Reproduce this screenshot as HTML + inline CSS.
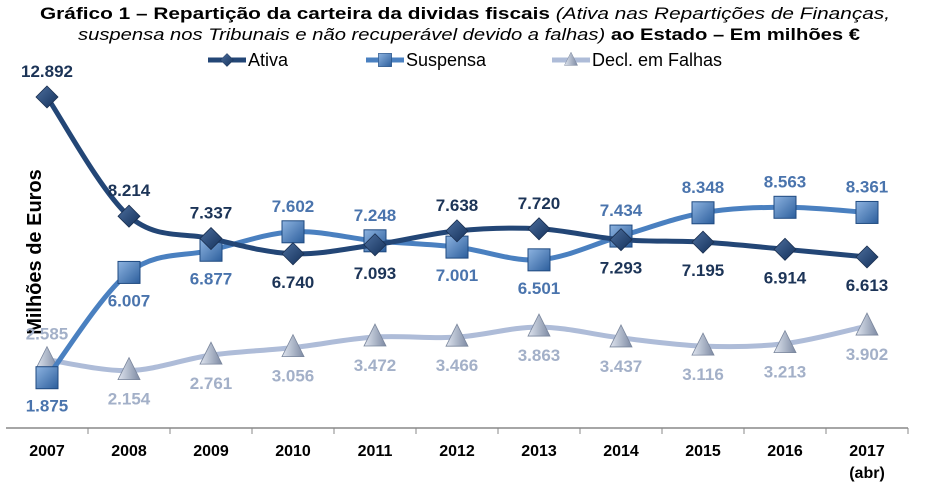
<!DOCTYPE html>
<html><head><meta charset="utf-8"><style>
body{margin:0;background:#fff;width:933px;height:489px;overflow:hidden}
svg{display:block}
</style></head><body>
<svg width="933" height="489" xmlns="http://www.w3.org/2000/svg">
<defs>
<linearGradient id="gA" x1="0" y1="0" x2="1" y2="1"><stop offset="0" stop-color="#4d6f9e"/><stop offset="1" stop-color="#13305a"/></linearGradient>
<linearGradient id="gS" x1="0" y1="0" x2="1" y2="1"><stop offset="0" stop-color="#8db3e0"/><stop offset="1" stop-color="#2c5e9c"/></linearGradient>
<linearGradient id="gD" x1="0" y1="0" x2="1" y2="0"><stop offset="0" stop-color="#dfe5ef"/><stop offset="1" stop-color="#7d8aa3"/></linearGradient>
</defs>
<text x="40" y="19" textLength="850" lengthAdjust="spacingAndGlyphs" font-family="Liberation Sans, sans-serif" font-size="17" font-weight="bold" fill="#000">Gráfico 1 – Repartição da carteira da dividas fiscais <tspan font-weight="normal" font-style="italic">(Ativa nas Repartições de Finanças,</tspan></text>
<text x="78" y="40" textLength="782" lengthAdjust="spacingAndGlyphs" font-family="Liberation Sans, sans-serif" font-size="17" font-weight="bold" fill="#000"><tspan font-weight="normal" font-style="italic">suspensa nos Tribunais e não recuperável devido a falhas)</tspan> ao Estado – Em milhões €</text>
<text transform="translate(41,252) rotate(-90)" text-anchor="middle" font-family="Liberation Sans, sans-serif" font-size="20" font-weight="bold" fill="#000">Milhões de Euros</text>
<g id="axis"></g>
<g id="legend"></g>
<g id="series"></g>
</svg>
<script>
const categories=["2007","2008","2009","2010","2011","2012","2013","2014","2015","2016","2017"];
const ativa=[12892,8214,7337,6740,7093,7638,7720,7293,7195,6914,6613];
const suspensa=[1875,6007,6877,7602,7248,7001,6501,7434,8348,8563,8361];
const falhas=[2585,2154,2761,3056,3472,3466,3863,3437,3116,3213,3902];
const ativaPos=["above","above","above","below","below","above","above","below","below","below","below"];
const suspensaPos=["below","below","below","above","above","below","below","above","above","above","above"];
const falhasPos=["above","below","below","below","below","below","below","below","below","below","below"];
const NS="http://www.w3.org/2000/svg";
const x0=47,step=82,yZero=425.5,k=160/6279;
const X=i=>x0+i*step, Y=v=>yZero-v*k;
function mk(tag,attrs,parent){const e=document.createElementNS(NS,tag);for(const a in attrs)e.setAttribute(a,attrs[a]);parent.appendChild(e);return e;}
const axis=document.getElementById('axis');
const base=mk('line',{x1:6,x2:908,y1:428,y2:428,stroke:'#888','stroke-width':1.5},axis);


categories.forEach((c,i)=>{
  const tk=mk('line',{x1:X(i)+41,x2:X(i)+41,y1:428,y2:434,stroke:'#888'},axis);
  
  
  const t=mk('text',{x:X(i),y:456,'text-anchor':'middle','font-family':'Liberation Sans, sans-serif','font-size':16,'font-weight':'bold',fill:'#000'},axis);
  t.textContent=c;
  
  
});
const abr=mk('text',{x:X(10),y:478,'text-anchor':'middle','font-family':'Liberation Sans, sans-serif','font-size':16,'font-weight':'bold',fill:'#000'},axis);
abr.textContent="(abr)";


function smooth(pts){let d=`M${pts[0][0]},${pts[0][1]}`;for(let i=0;i<pts.length-1;i++){const p0=pts[i-1]||pts[i],p1=pts[i],p2=pts[i+1],p3=pts[i+2]||p2;const c1=[p1[0]+(p2[0]-p0[0])/6,p1[1]+(p2[1]-p0[1])/6],c2=[p2[0]-(p3[0]-p1[0])/6,p2[1]-(p3[1]-p1[1])/6];d+=`C${c1},${c2},${p2}`;}return d;}
function marker(g,type,x,y,fill){
  if(type==='d')return mk('polygon',{points:`${x},${y-11} ${x+11},${y} ${x},${y+11} ${x-11},${y}`,fill:fill,stroke:'#1a2f50','stroke-width':0.8},g);
  if(type==='s')return mk('rect',{x:x-11,y:y-11,width:22,height:22,fill:fill,stroke:'#1f4a80','stroke-width':1},g);
  return mk('polygon',{points:`${x},${y-13} ${x+11},${y+9} ${x-11},${y+9}`,fill:fill,stroke:'#7a869c','stroke-width':0.8},g);
}
const seriesG=document.getElementById('series');
const defs=[
  {name:'falhas',data:falhas,pos:falhasPos,color:'#aebcd8',lab:'#a3b0c8',m:'t',fill:'url(#gD)'},
  {name:'suspensa',data:suspensa,pos:suspensaPos,color:'#4a80c0',lab:'#4a74ad',m:'s',fill:'url(#gS)'},
  {name:'ativa',data:ativa,pos:ativaPos,color:'#234676',lab:'#1c3457',m:'d',fill:'url(#gA)'}
];
defs.forEach(s=>{
  const g=mk('g',{},seriesG);
  
  
  const pts=s.data.map((v,i)=>[X(i),Y(v)]);
  const p=mk('path',{d:smooth(pts),fill:'none',stroke:s.color,'stroke-width':5,'stroke-linecap':'round'},g);
  
  
  s.g=g;s.pts=pts;
});
defs.forEach(s=>{
  s.pts.forEach((pt,i)=>{
    const m=marker(s.g,s.m,pt[0],pt[1],s.fill);
    
    
  });
});
defs.forEach(s=>{
  s.data.forEach((v,i)=>{
    const pt=s.pts[i];
    const ty=s.pos[i]==='above'?pt[1]-20:pt[1]+34;
    const t=mk('text',{x:pt[0],y:ty,'text-anchor':'middle','font-family':'Liberation Sans, sans-serif','font-size':17,'font-weight':'bold',fill:s.lab},s.g);
    t.textContent=v.toLocaleString('de-DE');
    
    
  });
});
const leg=document.getElementById('legend');
const items=[['Ativa','#234676','d','url(#gA)',208],['Suspensa','#4a80c0','s','url(#gS)',366],['Decl. em Falhas','#aebcd8','t','url(#gD)',552]];
items.forEach(it=>{
  const g=mk('g',{},leg);
  
  
  mk('line',{x1:it[4],x2:it[4]+38,y1:60,y2:60,stroke:it[1],'stroke-width':5},g);
  const m=marker(g,it[2],it[4]+19,60,it[3]);
  m.setAttribute('transform',`translate(${it[4]+19},60) scale(0.6) translate(${-(it[4]+19)},-60)`);
  const t=mk('text',{x:it[4]+40,y:66,'font-family':'Liberation Sans, sans-serif','font-size':18,fill:'#000'},g);
  t.textContent=it[0];
});
</script>
</body></html>
